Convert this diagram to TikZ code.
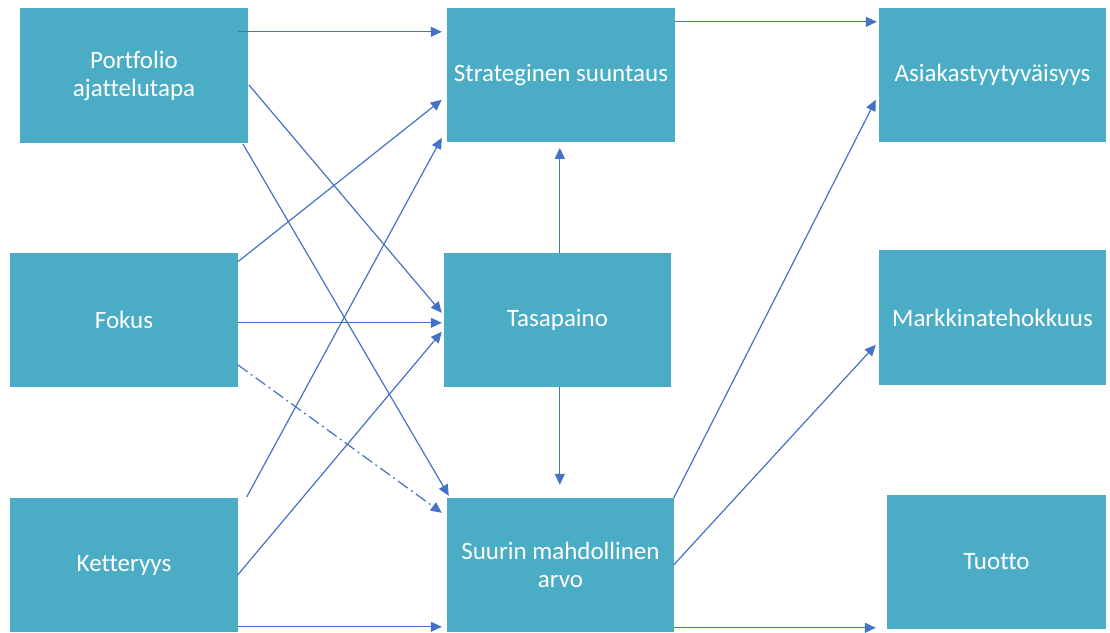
\documentclass[tikz,border=0pt]{standalone}
\usepackage{fontspec}
\setmainfont[Ligatures=NoCommon]{Carlito}
\usetikzlibrary{arrows.meta}
\definecolor{boxfill}{HTML}{4BACC6}
\definecolor{arrowc}{HTML}{4472C4}
\tikzset{
  box/.style={fill=boxfill, draw=none, text=white, align=center,
    inner sep=0pt, font=\fontsize{25}{28}\selectfont},
  arr/.style={draw=arrowc, line width=1.2pt,
    -{Triangle[length=11pt,width=10pt]}},
  dashdot/.style={dash pattern=on 12pt off 4pt on 2pt off 4pt}
}
\begin{document}
\begin{tikzpicture}[x=1pt,y=-1pt]
\useasboundingbox (0,0) rectangle (1110,632);
% boxes
\node[box, minimum width=228pt, minimum height=135pt] (P) at (134,75.5) {Portfolio\\ajattelutapa};
\node[box, minimum width=228pt, minimum height=134pt] (F) at (124,320) {Fokus};
\node[box, minimum width=228pt, minimum height=134pt] (K) at (124,565) {Ketteryys};
\node[box, minimum width=228pt, minimum height=134pt] (S) at (561,75) {Strateginen suuntaus};
\node[box, minimum width=227pt, minimum height=134pt] (T) at (557.5,320) {Tasapaino};
\node[box, minimum width=227pt, minimum height=134pt] (U) at (560.5,565) {Suurin mahdollinen\\arvo};
\node[box, minimum width=227pt, minimum height=134pt] (A) at (992.5,75) {Asiakastyytyväisyys};
\node[box, minimum width=227pt, minimum height=135pt] (M) at (992.5,317.5) {Markkinatehokkuus};
\node[box, minimum width=219pt, minimum height=134pt] (Tu) at (996.5,562) {Tuotto};
% connectors from left column
\draw[arr] ([shift={(218,24)}]P.north west) -- ([shift={(-5,24)}]S.north west);
\draw[arr] ([shift={(229,77)}]P.north west) -- ([shift={(-2,60)}]T.north west);
\draw[arr] ([shift={(223,136)}]P.north west) -- ([shift={(2,-2)}]U.north west);
\draw[arr] ([shift={(228,9)}]F.north west) -- ([shift={(-5,92)}]S.north west);
\draw[arr] ([shift={(228,70)}]F.north west) -- ([shift={(-2,70)}]T.north west);
\draw[arr, dashdot] ([shift={(228,112)}]F.north west) -- ([shift={(-5,15)}]U.north west);
\draw[arr] ([shift={(237,-1)}]K.north west) -- ([shift={(-5,130)}]S.north west);
\draw[arr] ([shift={(228,77)}]K.north west) -- ([shift={(-2,79)}]T.north west);
\draw[arr] ([shift={(228,129)}]K.north west) -- ([shift={(-5,129)}]U.north west);
% middle column
\draw[arr] ([shift={(116,0)}]T.north west) -- ([shift={(113,140)}]S.north west);
\draw[arr] ([shift={(116,134)}]T.north west) -- ([shift={(113,-13)}]U.north west);
% to right column
\draw[arr] ([shift={(228,14)}]S.north west) -- ([shift={(-2,14)}]A.north west);
\draw[arr] ([shift={(227,0)}]U.north west) -- ([shift={(-3,92)}]A.north west);
\draw[arr] ([shift={(227,67)}]U.north west) -- ([shift={(-3,95)}]M.north west);
\draw[arr] ([shift={(227,130)}]U.north west) -- ([shift={(-11,133)}]Tu.north west);
\end{tikzpicture}
\end{document}
